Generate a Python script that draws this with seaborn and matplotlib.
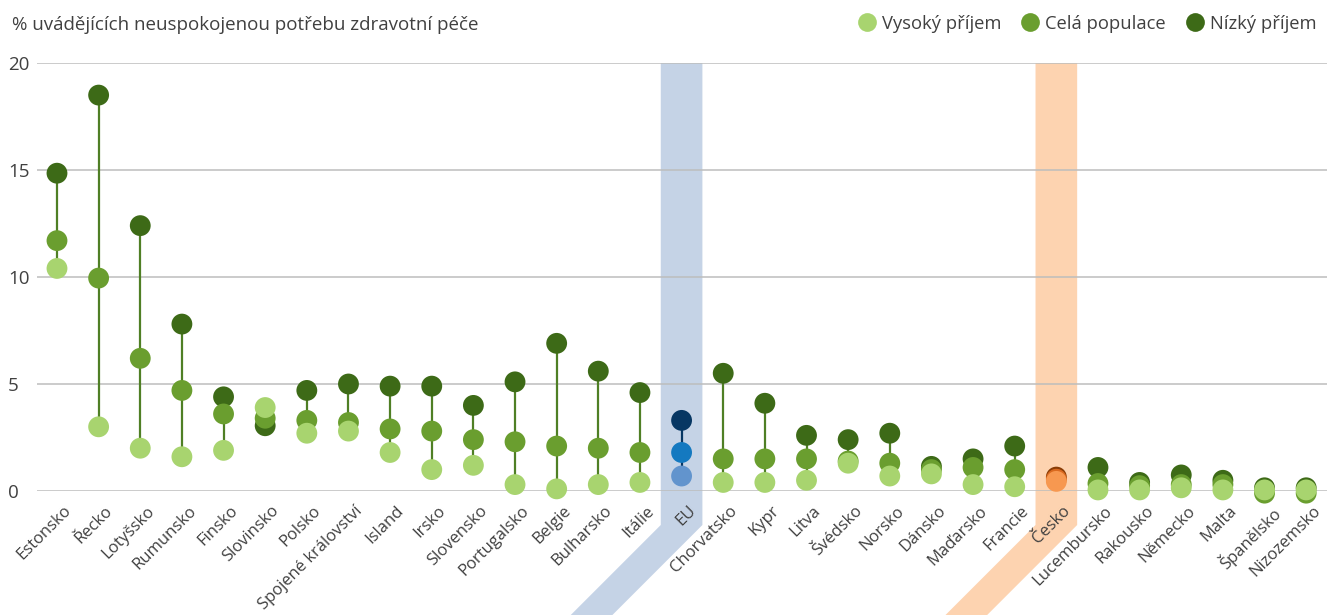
import numpy as np
import pandas as pd
import matplotlib
matplotlib.use("Agg")
import matplotlib.pyplot as plt
import seaborn as sns
from matplotlib.patches import Polygon
from matplotlib.lines import Line2D
from matplotlib.transforms import IdentityTransform, ScaledTranslation

# ---------------- data ----------------
categories = ["Estonsko", "Řecko", "Lotyšsko", "Rumunsko", "Finsko", "Slovinsko", "Polsko",
              "Spojené království", "Island", "Irsko", "Slovensko", "Portugalsko", "Belgie",
              "Bulharsko", "Itálie", "EU", "Chorvatsko", "Kypr", "Litva", "Švédsko", "Norsko",
              "Dánsko", "Maďarsko", "Francie", "Česko", "Lucembursko", "Rakousko", "Německo",
              "Malta", "Španělsko", "Nizozemsko"]
nizky_prijem = [14.85, 18.5, 12.4, 7.8, 4.4, 3.05, 4.7, 5.0, 4.9, 4.9, 4.0, 5.1, 6.9, 5.6, 4.6,
                3.3, 5.5, 4.1, 2.6, 2.4, 2.7, 1.15, 1.5, 2.1, 0.65, 1.1, 0.4, 0.75, 0.5, 0.15, 0.15]
cela_populace = [11.7, 9.95, 6.2, 4.7, 3.6, 3.4, 3.3, 3.2, 2.9, 2.8, 2.4, 2.3, 2.1, 2.0, 1.8,
                 1.8, 1.5, 1.5, 1.5, 1.4, 1.3, 1.0, 1.1, 1.0, 0.55, 0.35, 0.25, 0.3, 0.3, -0.1, -0.1]
vysoky_prijem = [10.4, 3.0, 2.0, 1.6, 1.9, 3.9, 2.7, 2.8, 1.8, 1.0, 1.2, 0.3, 0.1, 0.3, 0.4,
                 0.7, 0.4, 0.4, 0.5, 1.3, 0.7, 0.8, 0.3, 0.2, 0.45, 0.05, 0.05, 0.15, 0.05, 0.05, 0.05]
y_ticks = [0, 5, 10, 15, 20]
series_names = ["Vysoký příjem", "Celá populace", "Nízký příjem"]
title_text = "% uvádějících neuspokojenou potřebu zdravotní péče"
highlight_eu = "EU"
highlight_cz = "Česko"

# ---------------- style ----------------
GREEN = {"low": "#3D6A17", "tot": "#6A9E2F", "high": "#A8D46F"}
BLUE = {"low": "#073763", "tot": "#1479C0", "high": "#6294CD"}
ORANGE = {"low": "#8A3C05", "tot": "#D9691F", "high": "#F79850"}
TEXT = "#404040"

sns.set_style("white")
plt.rcParams["font.family"] = ["Open Sans", "DejaVu Sans"]

fig = plt.figure(figsize=(13.31, 6.15), dpi=100)
W, H = 1331, 615
ax = fig.add_axes([37 / W, (H - 491) / H, (1327 - 37) / W, (491 - 63) / H])
ax.patch.set_alpha(0)

n = len(categories)
pos = np.arange(n)

def group_of(cat, key):
    if cat == highlight_eu:
        return "eu_" + key
    if cat == highlight_cz:
        return "cz_" + key
    return "g_" + key

rows = []
for key, vals in (("low", nizky_prijem), ("tot", cela_populace), ("high", vysoky_prijem)):
    for i, (c, v) in enumerate(zip(categories, vals)):
        rows.append({"pos": i, "value": v, "group": group_of(c, key)})
df = pd.DataFrame(rows)

palette = {}
for k in ("low", "tot", "high"):
    palette["g_" + k] = GREEN[k]
    palette["eu_" + k] = BLUE[k]
    palette["cz_" + k] = ORANGE[k]

# connecting lines
mins = np.minimum.reduce([nizky_prijem, cela_populace, vysoky_prijem])
maxs = np.maximum.reduce([nizky_prijem, cela_populace, vysoky_prijem])
line_colors = []
for c in categories:
    if c == highlight_eu:
        line_colors.append(BLUE["low"])
    elif c == highlight_cz:
        line_colors.append(ORANGE["low"])
    else:
        line_colors.append("#4F7F25")
ax.vlines(pos, mins, maxs, colors=line_colors, linewidth=1.6, zorder=2)

sns.scatterplot(data=df, x="pos", y="value", hue="group", palette=palette, s=225,
                linewidth=0, legend=False, ax=ax, zorder=3, clip_on=False)

ax.set_xlim(-0.48, n - 0.5)
ax.set_ylim(0, 20)
ax.set_yticks(y_ticks)
ax.set_yticklabels([str(t) for t in y_ticks])
ax.set_xticks(pos)
ax.set_xticklabels(categories)
ax.set_xlabel("")
ax.set_ylabel("")
for s in ax.spines.values():
    s.set_visible(False)
ax.set_axisbelow(True)
ax.yaxis.grid(True, color="#BDBDBD", linewidth=1.1)
ax.xaxis.grid(False)
ax.tick_params(axis="y", length=0, pad=21, labelsize=13.5, labelcolor=TEXT)
ax.tick_params(axis="x", length=0, pad=8.5, labelsize=12.0, labelcolor=TEXT)
for lab in ax.get_yticklabels():
    lab.set_ha("left")
shift = ScaledTranslation(6 / 100, 0, fig.dpi_scale_trans)
for lab in ax.get_xticklabels():
    lab.set_rotation(45)
    lab.set_ha("right")
    lab.set_va("top")
    lab.set_rotation_mode("anchor")
    lab.set_transform(lab.get_transform() + shift)

# highlight bands (display coords, derived from category positions)
fig.canvas.draw()
def band(cat, color):
    i = categories.index(cat)
    xl = ax.transData.transform((i - 0.5, 0))[0]
    xr = ax.transData.transform((i + 0.5, 0))[0]
    ytop = ax.transData.transform((0, 20))[1]
    yd = 90
    pts = [(xl, ytop), (xr, ytop), (xr, yd), (xr - yd, 0), (xl - yd, 0), (xl, yd)]
    p = Polygon(pts, closed=True, facecolor=color, edgecolor="none",
                transform=IdentityTransform(), zorder=0.1, clip_on=False)
    ax.add_artist(p)

band(highlight_eu, "#C5D3E6")
band(highlight_cz, "#FDD3B0")

# title
fig.text(12 / W, 1 - 25 / H, title_text, fontsize=13.5, color=TEXT, ha="left", va="center")

# legend
handles = [Line2D([], [], marker="o", linestyle="none", markersize=13.5,
                  markerfacecolor=GREEN[k], markeredgewidth=0) for k in ("high", "tot", "low")]
fig.legend(handles, series_names, loc="upper right", bbox_to_anchor=(1.0, 1.0),
           ncol=3, frameon=False, fontsize=13.2, labelcolor=TEXT, handletextpad=0.2,
           columnspacing=1.0, borderaxespad=0.4, handlelength=1.2)

fig.savefig("out.png", dpi=100)
